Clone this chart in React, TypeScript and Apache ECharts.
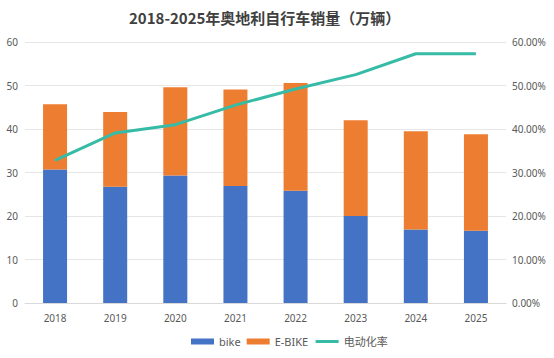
import React, { useEffect, useRef } from "react";
import * as echarts from "echarts";

const years = ["2018", "2019", "2020", "2021", "2022", "2023", "2024", "2025"];
const bike = [30.7, 26.7, 29.3, 26.9, 25.8, 20.0, 16.9, 16.6];
const ebike = [15.0, 17.2, 20.3, 22.2, 24.8, 22.0, 22.6, 22.2];
const eRate = [32.8, 39.1, 41.0, 45.5, 49.2, 52.5, 57.3, 57.3];

export default function App() {
  const ref = useRef<HTMLDivElement>(null);
  useEffect(() => {
    const chart = echarts.init(ref.current!, null, { renderer: "svg" });
    const font = "'Noto Sans', 'Noto Sans CJK SC', sans-serif";
    chart.setOption({
      animation: false,
      backgroundColor: "#ffffff",
      title: {
        text: "2018-2025年奥地利自行车销量（万辆）",
        left: 124,
        top: 5,
        textStyle: { fontSize: 15, fontWeight: "bold", color: "#404040", fontFamily: "'Noto Sans CJK SC', sans-serif" },
      },
      legend: {
        bottom: 6,
        left: 186,
        itemGap: 6,
        textStyle: { fontSize: 11, color: "#595959", fontFamily: font },
        data: [
          { name: "bike", icon: "rect", itemStyle: { color: "#4472C4" } },
          { name: "E-BIKE", icon: "rect", itemStyle: { color: "#ED7D31" } },
          { name: "电动化率", itemStyle: { opacity: 0 }, lineStyle: { color: "#36BBA6", width: 3 } },
        ],
        itemWidth: 23,
        itemHeight: 6,
      },
      grid: { left: 25, right: 48, top: 42, height: 261 },
      xAxis: {
        type: "category",
        data: years,
        axisLine: { lineStyle: { color: "#d9d9d9" } },
        axisTick: { show: false },
        axisLabel: { color: "#595959", fontSize: 10, fontFamily: font, margin: 10 },
      },
      yAxis: [
        {
          type: "value",
          min: 0,
          max: 60,
          interval: 10,
          axisLine: { show: false },
          axisTick: { show: false },
          splitLine: { lineStyle: { color: "#e6e6e6" } },
          axisLabel: { color: "#595959", fontSize: 10, fontFamily: font, margin: 7 },
        },
        {
          type: "value",
          min: 0,
          max: 60,
          interval: 10,
          axisLine: { show: false },
          axisTick: { show: false },
          splitLine: { show: false },
          axisLabel: {
            color: "#595959",
            fontSize: 10,
            fontFamily: font,
            margin: 6,
            formatter: (v: number) => v.toFixed(2) + "%",
          },
        },
      ],
      series: [
        {
          name: "bike",
          type: "bar",
          stack: "total",
          data: bike,
          barWidth: 24,
          itemStyle: { color: "#4472C4" },
        },
        {
          name: "E-BIKE",
          type: "bar",
          stack: "total",
          data: ebike,
          barWidth: 24,
          itemStyle: { color: "#ED7D31" },
        },
        {
          name: "电动化率",
          type: "line",
          yAxisIndex: 1,
          data: eRate,
          symbol: "none",
          lineStyle: { color: "#36BBA6", width: 3 },
          itemStyle: { color: "#36BBA6" },
        },
      ],
    });
    return () => chart.dispose();
  }, []);
  return <div ref={ref} style={{ width: 554, height: 358, position: "absolute", left: 0, top: 0 }} />;
}
